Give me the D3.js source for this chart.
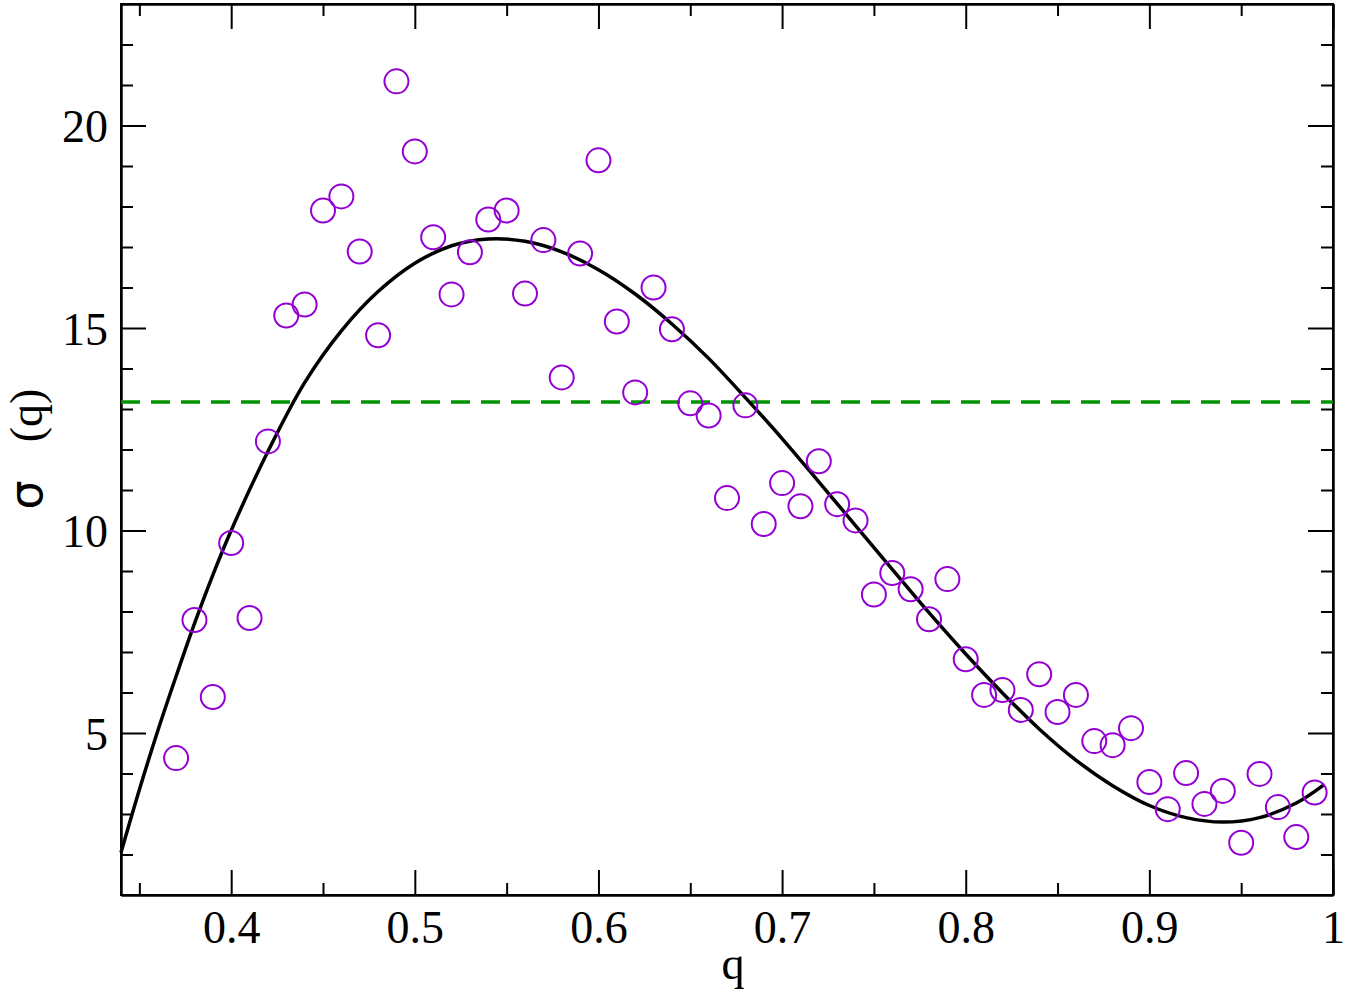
<!DOCTYPE html>
<html>
<head>
<meta charset="utf-8">
<script src="https://cdn.jsdelivr.net/npm/d3@7/dist/d3.min.js"></script>
<style>
    body { margin: 0; background: #fff; }
    svg { display: block; }
    .axis path, .axis line { stroke: #000; stroke-width: 2; }
    .axis text { font-family: "Liberation Serif", "Times New Roman", serif; font-size: 46px; fill: #000; }
</style>
</head>
<body>
<svg id="chart" width="1346" height="994"></svg>
<script>
    // measured points, q vs sigma
    var qValues = [0.37, 0.38, 0.39, 0.40, 0.41, 0.42, 0.43, 0.44, 0.45, 0.46, 0.47, 0.48, 0.49,
        0.50, 0.51, 0.52, 0.53, 0.54, 0.55, 0.56, 0.57, 0.58, 0.59, 0.60, 0.61, 0.62, 0.63, 0.64,
        0.65, 0.66, 0.67, 0.68, 0.69, 0.70, 0.71, 0.72, 0.73, 0.74, 0.75, 0.76, 0.77, 0.78, 0.79,
        0.80, 0.81, 0.82, 0.83, 0.84, 0.85, 0.86, 0.87, 0.88, 0.89, 0.90, 0.91, 0.92, 0.93, 0.94,
        0.95, 0.96, 0.97, 0.98, 0.99];
    var sigmaValues = [4.38, 7.79, 5.89, 9.69, 7.84, 12.2, 15.31, 15.58, 17.9, 18.25, 16.89, 14.82, 21.09,
        19.36, 17.24, 15.83, 16.87, 17.68, 17.9, 15.85, 17.17, 13.78, 16.84, 19.14, 15.16, 13.41, 16.0, 14.97,
        13.14, 12.84, 10.8, 13.09, 10.16, 11.17, 10.6, 11.71, 10.65, 10.25, 8.42, 8.95, 8.55, 7.81, 8.8,
        6.82, 5.94, 6.06, 5.57, 6.45, 5.52, 5.94, 4.8, 4.7, 5.12, 3.79, 3.12, 4.01, 3.25, 3.57,
        2.29, 3.99, 3.17, 2.43, 3.53];

    // fitted curve
    var fitQ = [0.34, 0.35, 0.36, 0.37, 0.38, 0.39, 0.40, 0.42, 0.44, 0.46, 0.48, 0.50, 0.52, 0.54,
        0.56, 0.58, 0.60, 0.62, 0.64, 0.66, 0.68, 0.70, 0.72, 0.74, 0.76, 0.78, 0.80, 0.82, 0.84,
        0.86, 0.88, 0.90, 0.92, 0.94, 0.96, 0.98, 0.995];
    var fitSigma = [2.05, 3.6, 5.05, 6.4, 7.7, 8.9, 10.0, 11.95, 13.65, 14.93, 15.9, 16.6, 17.03, 17.2,
        17.14, 16.88, 16.44, 15.84, 15.1, 14.25, 13.28, 12.27, 11.2, 10.12, 9.04, 7.97, 6.95, 5.99, 5.1,
        4.33, 3.7, 3.21, 2.91, 2.8, 2.91, 3.27, 3.72];

    var meanSigma = 13.17;

    var xMajor = [0.4, 0.5, 0.6, 0.7, 0.8, 0.9, 1.0];
    var xMinor = [0.35, 0.45, 0.55, 0.65, 0.75, 0.85, 0.95];
    var yMajor = [5, 10, 15, 20];
    var yMinor = [2, 3, 4, 6, 7, 8, 9, 11, 12, 13, 14, 16, 17, 18, 19, 21, 22];

    var margin = { left: 121, top: 4, right: 1333, bottom: 895 };

    var svg = d3.select("#chart");

    var x = d3.scaleLinear().domain([0.34, 1.0]).range([margin.left, margin.right]);
    var y = d3.scaleLinear().domain([1, 23]).range([margin.bottom, margin.top]);

    var xFormat = function(d) { return d === 1 ? "1" : d3.format(".1f")(d) };

    function addAxis(axis, transform, values, size, format) {
        var g = svg.append("g")
            .attr("class", "axis")
            .attr("transform", transform)
            .call(axis.tickValues(values).tickSizeInner(-size).tickSizeOuter(0).tickFormat(format || ""));
        return g;
    }

    // ticks on all four sides, pointing inward
    var bottomMajor = addAxis(d3.axisBottom(x), "translate(0," + margin.bottom + ")", xMajor, 25, xFormat);
    addAxis(d3.axisBottom(x), "translate(0," + margin.bottom + ")", xMinor, 12);
    addAxis(d3.axisTop(x), "translate(0," + margin.top + ")", xMajor, 25);
    addAxis(d3.axisTop(x), "translate(0," + margin.top + ")", xMinor, 12);
    var leftMajor = addAxis(d3.axisLeft(y), "translate(" + margin.left + ",0)", yMajor, 25, d3.format("d"));
    addAxis(d3.axisLeft(y), "translate(" + margin.left + ",0)", yMinor, 12);
    addAxis(d3.axisRight(y), "translate(" + margin.right + ",0)", yMajor, 25);
    addAxis(d3.axisRight(y), "translate(" + margin.right + ",0)", yMinor, 12);

    bottomMajor.selectAll("text")
        .attr("y", 48)
        .attr("dy", null);
    leftMajor.selectAll("text")
        .attr("x", -13)
        .attr("dy", 16);

    // frame
    svg.append("rect")
        .attr("x", margin.left)
        .attr("y", margin.top)
        .attr("width", margin.right - margin.left)
        .attr("height", margin.bottom - margin.top)
        .attr("fill", "none")
        .attr("stroke", "#000")
        .attr("stroke-width", 2);

    // mean line
    svg.append("line")
        .attr("x1", x(0.34))
        .attr("x2", x(1.0))
        .attr("y1", y(meanSigma))
        .attr("y2", y(meanSigma))
        .attr("stroke", "#009400")
        .attr("stroke-width", 3.5)
        .attr("stroke-dasharray", "19,11");

    var line = d3.line()
        .x(function(d, i) { return x(fitQ[i]) })
        .y(function(d) { return y(d) })
        .curve(d3.curveCatmullRom.alpha(0.5));

    svg.append("path")
        .attr("d", line(fitSigma))
        .attr("fill", "none")
        .attr("stroke", "#000")
        .attr("stroke-width", 3.5);

    svg.append("g").classed("points", true)
        .selectAll("circle")
        .data(sigmaValues)
        .enter()
        .append("circle")
        .attr("cx", function(d, i) { return x(qValues[i]) })
        .attr("cy", function(d) { return y(d) })
        .attr("r", 12)
        .attr("fill", "none")
        .attr("stroke", "#9400d3")
        .attr("stroke-width", 2);

    // axis titles
    svg.append("text")
        .attr("x", 733)
        .attr("y", 979)
        .attr("text-anchor", "middle")
        .attr("font-family", "Liberation Serif, serif")
        .attr("font-size", 46)
        .text("q");

    var yTitle = svg.append("text")
        .attr("transform", "translate(42,449) rotate(-90)")
        .attr("text-anchor", "middle")
        .attr("font-size", 46);
    yTitle.append("tspan")
        .attr("font-family", "DejaVu Sans, sans-serif")
        .text("σ");
    yTitle.append("tspan")
        .attr("font-family", "Liberation Serif, serif")
        .attr("dx", 38)
        .text("(q)");
</script>
</body>
</html>
